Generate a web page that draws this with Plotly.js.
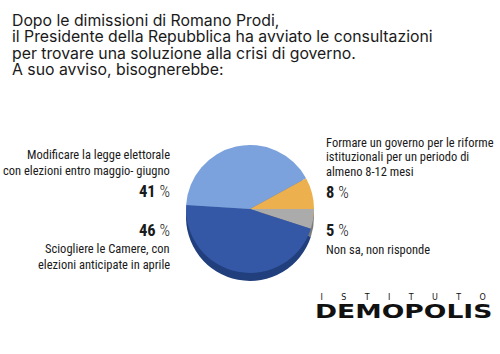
<!DOCTYPE html>
<html>
<head>
<meta charset="utf-8">
<script src="https://cdn.plot.ly/plotly-3.0.1.min.js"></script>
<style>html,body{margin:0;padding:0;background:#fff;}#chart{width:500px;height:354px;}</style>
</head>
<body>
<div id="chart"></div>
<script>
// ---- data (clockwise from 3 o'clock) ----
const categories = ["Non sa, non risponde", "Sciogliere le Camere", "Modificare la legge elettorale", "Formare un governo per le riforme istituzionali"];
const values = [5, 46, 41, 8];
const sliceColors = ["#ABABAB", "#3458A6", "#7BA2DC", "#EDB04F"];
const rimColors = ["#7A7A7A", "#213F7C", "#4B6FA8", "#B98630"];
const titleLines = [
  "Dopo le dimissioni di Romano Prodi,",
  "il Presidente della Repubblica ha avviato le consultazioni",
  "per trovare una soluzione alla crisi di governo.",
  "A suo avviso, bisognerebbe:"
];
const leftTopLines = ["Modificare la legge elettorale", "con elezioni entro maggio- giugno"];
const leftBottomLines = ["Sciogliere le Camere, con", "elezioni anticipate in aprile"];
const rightTopLines = ["Formare un governo per le riforme", "istituzionali per un periodo di", "almeno 8-12 mesi"];
const rightBottomLines = ["Non sa, non risponde"];
const pctLabels = ["5", "46", "41", "8"];

// ---- helpers ----
const W = 500, H = 354;
const px = x => x / W;
const py = y => 1 - y / H;
const annotations = [];
function addText(text, x, y, anchor, font) {
  annotations.push({text: text, xref: "paper", yref: "paper", x: px(x), y: py(y),
    xanchor: anchor, yanchor: "middle", showarrow: false, font: font});
}
const titleFont = {family: "Inter, 'Open Sans', sans-serif", size: 15.8, color: "#1a1a1a"};
titleLines.forEach((t, i) => addText(t, 10, 21 + i * 16, "left", titleFont));

const condensed = "'Liberation Sans Narrow', 'Roboto Condensed', Roboto, sans-serif";
const labFont = {family: condensed, size: 12.5, color: "#1a1a1a"};
leftTopLines.forEach((t, i) => addText(t, 172, 154 + i * 16, "right", labFont));
leftBottomLines.forEach((t, i) => addText(t, 172, 248 + i * 16, "right", labFont));
rightTopLines.forEach((t, i) => addText(t, 324, 142 + i * 14.5, "left", labFont));
rightBottomLines.forEach((t, i) => addText(t, 324, 249 + i * 16, "left", labFont));

const pctFont = {family: condensed, size: 16.5, color: "#1a1a1a"};
const pct = v => "<b>" + v + "</b> <span style='font-weight:300'>%</span>";
addText(pct(pctLabels[2]), 172, 191, "right", pctFont);
addText(pct(pctLabels[1]), 172, 230, "right", pctFont);
addText(pct(pctLabels[3]), 324, 192, "left", pctFont);
addText(pct(pctLabels[0]), 324, 230, "left", pctFont);

// logo
addText("ISTITUTO", 412, 297, "center",
  {family: "'DejaVu Sans', sans-serif", size: 8, color: "#111"});
addText("<b>DEMOPOLIS</b>", 313, 311, "left",
  {family: "'DejaVu Sans', sans-serif", size: 20, color: "#111"});

const pieDomX = [px(186), px(314)];
const common = {type: "pie", values: values, labels: categories, sort: false, direction: "clockwise",
   rotation: 90, textinfo: "none", showlegend: false};
const traces = [
  Object.assign({}, common, {marker: {colors: rimColors, line: {width: 0}}, hoverinfo: "skip",
   domain: {x: pieDomX, y: [py(281), py(153)]}}),
  Object.assign({}, common, {marker: {colors: sliceColors, line: {width: 0}},
   domain: {x: pieDomX, y: [py(273), py(145)]}})
];

const layout = {
  width: W, height: H, margin: {l: 0, r: 0, t: 0, b: 0},
  paper_bgcolor: "#fff", plot_bgcolor: "#fff",
  showlegend: false, annotations: annotations
};
Plotly.newPlot("chart", traces, layout, {displayModeBar: false, staticPlot: true}).then(() => {
  document.querySelectorAll(".annotation-text").forEach(t => {
    const s = t.textContent;
    if (s === "DEMOPOLIS") {
      t.style.transformBox = "fill-box";
      t.style.transformOrigin = "left center";
      t.style.transform = "scaleX(1.33)";
    } else if (s === "ISTITUTO") {
      t.style.letterSpacing = "18.4px";
    }
  });
});
</script>
</body>
</html>
